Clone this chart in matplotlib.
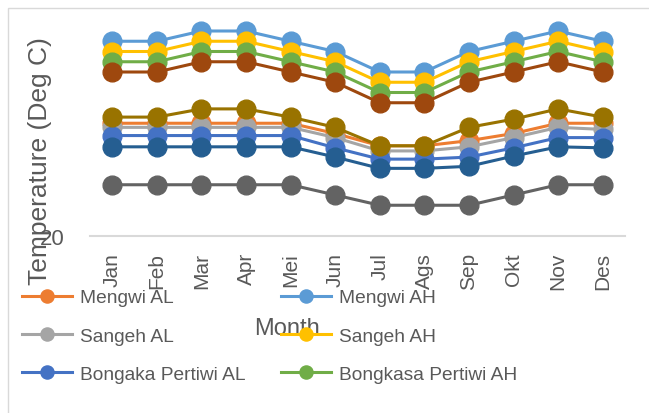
"""Monthly temperature lines (Excel-style line chart with markers)"""

import matplotlib

matplotlib.use("Agg")
import matplotlib.pyplot as plt
from matplotlib.patches import Rectangle

plt.rcParams["font.family"] = ["Liberation Sans", "DejaVu Sans"]

# %% data
months = ["Jan", "Feb", "Mar", "Apr", "Mei", "Jun", "Jul", "Ags", "Sep", "Okt", "Nov", "Des"]

mengwi_ah = [29.5, 29.5, 30, 30, 29.5, 29, 28, 28, 29, 29.5, 30, 29.5]
mengwi_al = [25.5, 25.5, 25.5, 25.5, 25.5, 25.0, 24.4, 24.4, 24.65, 25.0, 25.5, 25.5]
sangeh_al = [25.3, 25.3, 25.3, 25.3, 25.3, 24.8, 24.15, 24.15, 24.35, 24.8, 25.3, 25.2]
sangeh_ah = [29, 29, 29.5, 29.5, 29, 28.5, 27.5, 27.5, 28.5, 29, 29.5, 29]
bongaka_al = [24.9, 24.9, 24.9, 24.9, 24.9, 24.3, 23.75, 23.75, 23.85, 24.3, 24.8, 24.8]
bongkasa_ah = [28.5, 28.5, 29, 29, 28.5, 28, 27, 27, 28, 28.5, 29, 28.5]
series_7 = [24.35, 24.35, 24.35, 24.35, 24.35, 23.85, 23.3, 23.3, 23.4, 23.9, 24.35, 24.3]
series_8 = [28, 28, 28.5, 28.5, 28, 27.5, 26.5, 26.5, 27.5, 28, 28.5, 28]
series_9 = [22.5, 22.5, 22.5, 22.5, 22.5, 22, 21.5, 21.5, 21.5, 22, 22.5, 22.5]
series_10 = [25.8, 25.8, 26.2, 26.2, 25.8, 25.3, 24.4, 24.4, 25.3, 25.7, 26.2, 25.8]

# drawing order = excel series order (later ones sit on top)
series = [
    ("Mengwi AH", mengwi_ah, "#5B9BD5"),
    ("Mengwi AL", mengwi_al, "#ED7D31"),
    ("Sangeh AL", sangeh_al, "#A5A5A5"),
    ("Sangeh AH", sangeh_ah, "#FFC000"),
    ("Bongaka Pertiwi AL", bongaka_al, "#4472C4"),
    ("Bongkasa Pertiwi AH", bongkasa_ah, "#70AD47"),
    ("Series 7", series_7, "#255E91"),
    ("Series 8", series_8, "#9E480E"),
    ("Series 9", series_9, "#636363"),
    ("Series 10", series_10, "#997300"),
]
legend_order = ["Mengwi AL", "Sangeh AL", "Bongaka Pertiwi AL",
                "Mengwi AH", "Sangeh AH", "Bongkasa Pertiwi AH"]

# %% plot
W, H = 649, 414
fig = plt.figure(figsize=(W / 100, H / 100), dpi=100)
ax = fig.add_axes([90 / W, 1 - 237 / H, 535 / W, 222 / H])

x = list(range(len(months)))
handles = {}
for name, vals, col in series:
    (ln,) = ax.plot(x, vals, color=col, lw=2.2, marker="o", ms=13.5, mec=col,
                    clip_on=False, label=name)
    handles[name] = ln

ax.set_xlim(-0.5, len(months) - 0.5)
ax.set_ylim(20, 20 + 222 / 20.5)
ax.set_xticks(x)
ax.set_xticklabels(months, rotation=90, fontsize=15, color="#595959")
ax.set_yticks([20])
ax.set_yticklabels(["20"], fontsize=16, color="#595959")
ax.tick_params(axis="x", length=0, pad=11.5)
ax.tick_params(axis="y", length=0, pad=18)

for s in ["top", "right", "left"]:
    ax.spines[s].set_visible(False)
ax.spines["bottom"].set_color("#D9D9D9")
ax.spines["bottom"].set_linewidth(1.5)

ax.set_ylabel("Temperature (Deg C)", fontsize=19, color="#595959")
ax.yaxis.set_label_coords(-0.071, 0.34)
ax.set_xlabel("Month", fontsize=17, color="#595959")
ax.xaxis.set_label_coords(0.368, -0.365)

fig.legend([handles[n] for n in legend_order], legend_order, ncol=2,
           loc="upper left", bbox_to_anchor=(22 / W, 1 - 290 / H),
           frameon=False, borderaxespad=0, borderpad=0, fontsize=13.8,
           labelcolor="#595959", handlelength=2.6, handletextpad=0.4,
           columnspacing=1.9, labelspacing=1.08, markerscale=0.7)

# chart area border
fig.add_artist(Rectangle((8 / W, -0.1), 1.2, 1 - 9 / H + 0.1, transform=fig.transFigure,
                         fill=False, ec="#D9D9D9", lw=1))

fig.savefig("out.png", dpi=100)
